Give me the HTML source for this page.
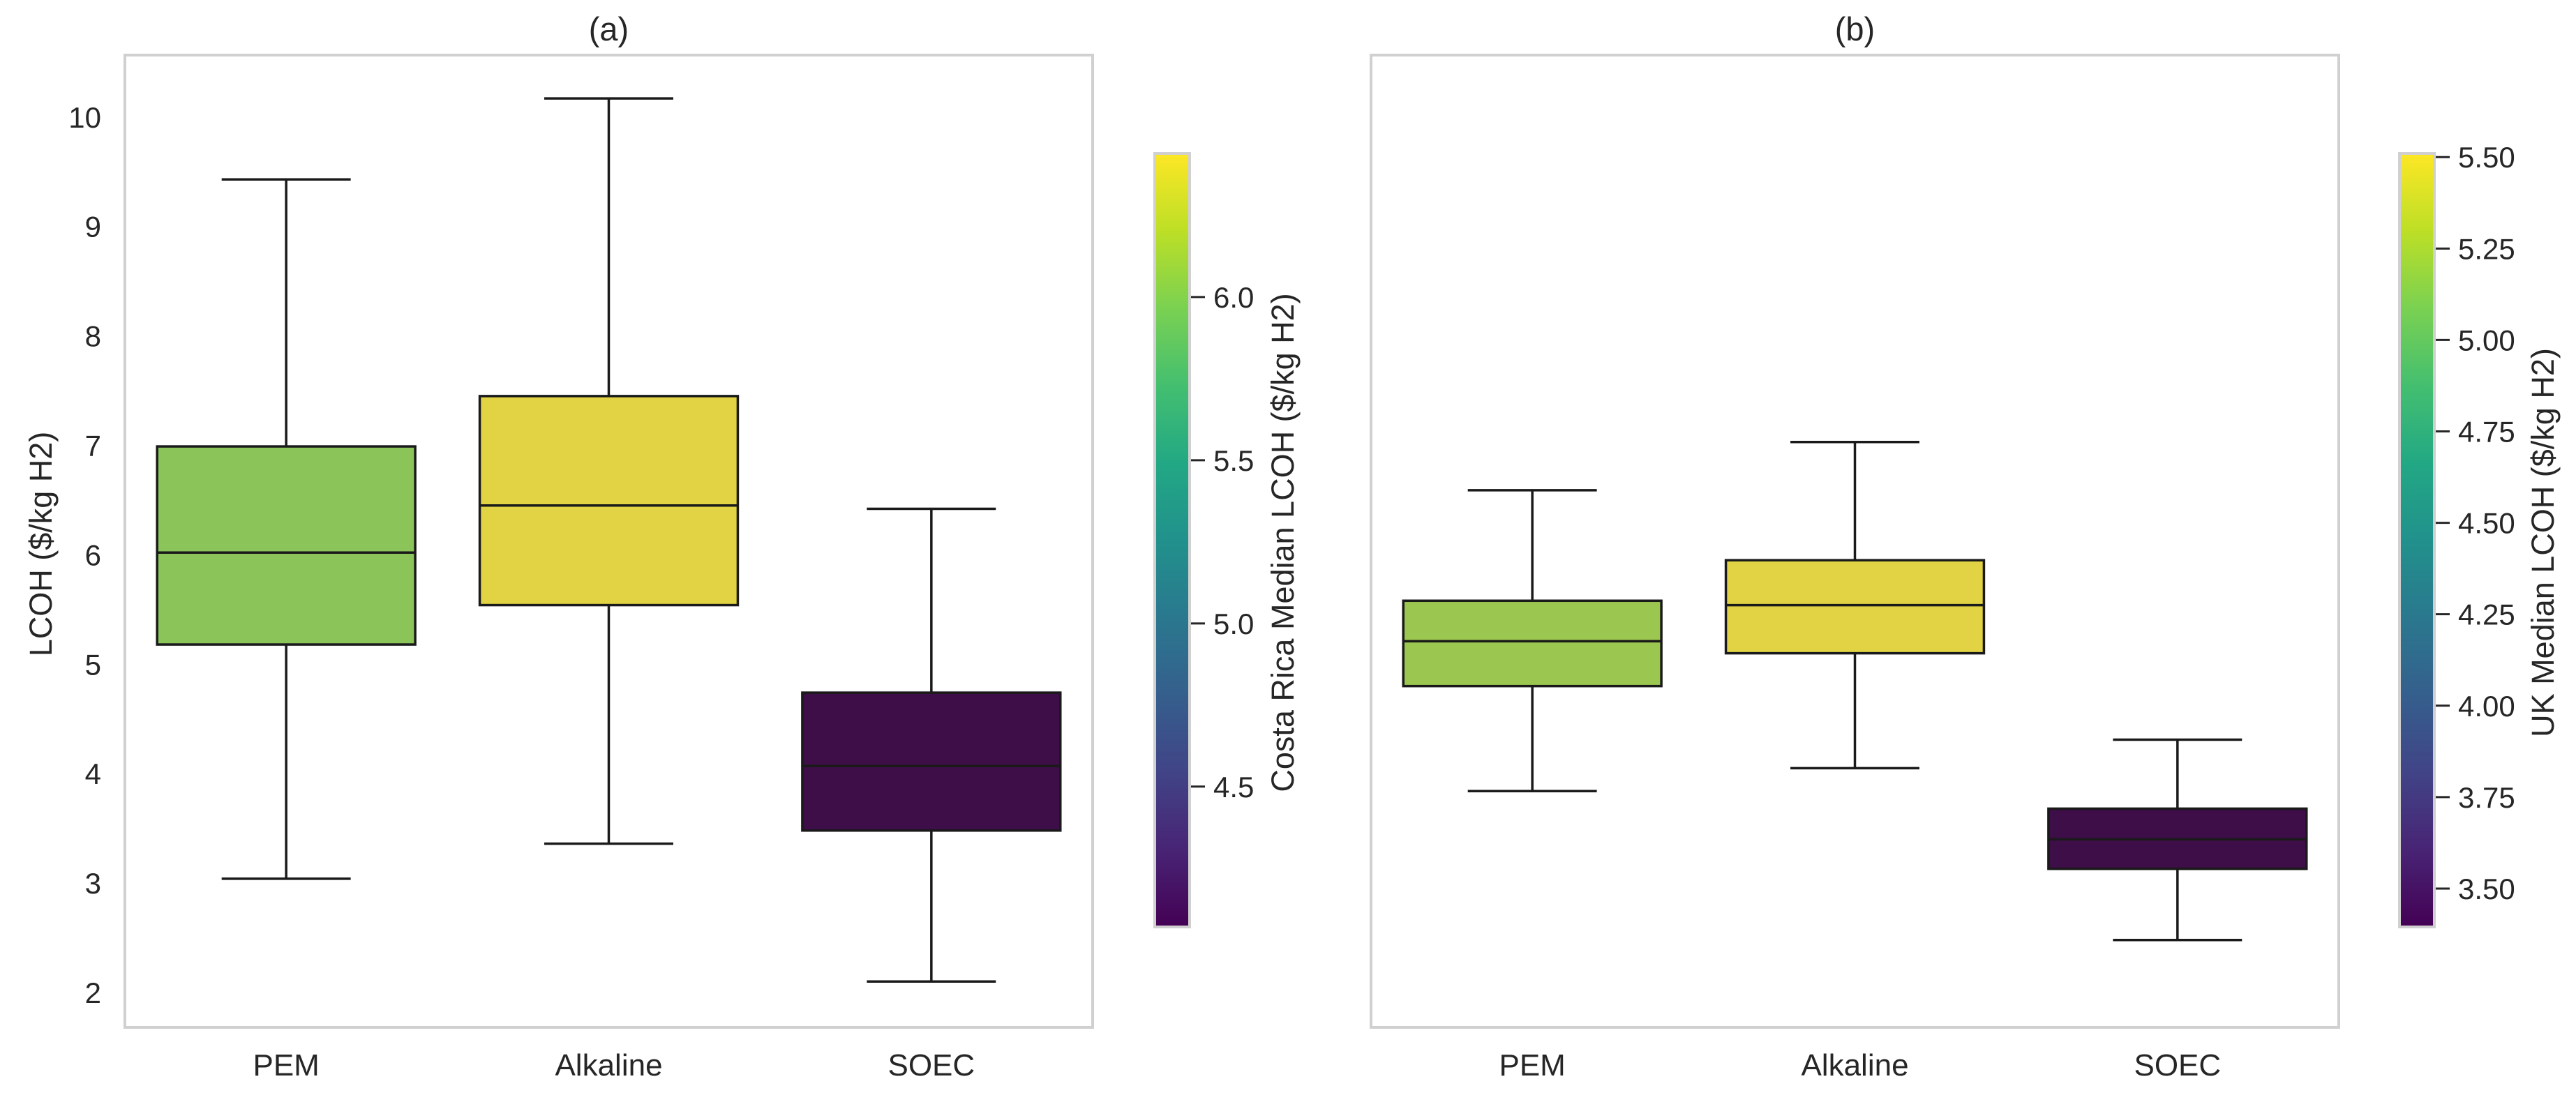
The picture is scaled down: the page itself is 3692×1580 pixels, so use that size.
<!DOCTYPE html>
<html><head><meta charset="utf-8">
<style>
html,body{margin:0;padding:0;background:#fff;}
svg{display:block;font-family:"Liberation Sans",sans-serif;}
</style></head>
<body>
<svg id="chart" width="3692" height="1580" viewBox="0 0 3692 1580" xmlns="http://www.w3.org/2000/svg">
<defs>
<linearGradient id="viridis" x1="0" y1="1" x2="0" y2="0">
<stop offset="0" stop-color="#440154"/><stop offset="0.1" stop-color="#482475"/>
<stop offset="0.2" stop-color="#414487"/><stop offset="0.3" stop-color="#355f8d"/>
<stop offset="0.4" stop-color="#2a788e"/><stop offset="0.5" stop-color="#21918c"/>
<stop offset="0.6" stop-color="#22a884"/><stop offset="0.7" stop-color="#44bf70"/>
<stop offset="0.8" stop-color="#7ad151"/><stop offset="0.9" stop-color="#bddf26"/>
<stop offset="1" stop-color="#fde725"/>
</linearGradient>
</defs>
<g id="root"></g>
</svg>
<script>
const categories = ["PEM", "Alkaline", "SOEC"];
const yTicks = [2, 3, 4, 5, 6, 7, 8, 9, 10];
// panel (a) Costa Rica
const aLow = [3.04, 3.36, 2.10];
const aQ1 = [5.18, 5.54, 3.48];
const aMed = [6.02, 6.45, 4.07];
const aQ3 = [6.99, 7.45, 4.74];
const aHigh = [9.43, 10.17, 6.42];
const aColors = ["#8bc55a", "#e1d344", "#3d0e47"];
// panel (b) UK
const bLow = [3.84, 4.05, 2.48];
const bQ1 = [4.80, 5.10, 3.13];
const bMed = [5.21, 5.54, 3.40];
const bQ3 = [5.58, 5.95, 3.68];
const bHigh = [6.59, 7.03, 4.31];
const bColors = ["#9bc64f", "#e1d344", "#3d0e47"];
// colorbars
const cbATicks = [4.5, 5.0, 5.5, 6.0];
const cbATickLabels = ["4.5", "5.0", "5.5", "6.0"];
const cbARange = [4.07, 6.44];
const cbBTicks = [3.5, 3.75, 4.0, 4.25, 4.5, 4.75, 5.0, 5.25, 5.5];
const cbBTickLabels = ["3.50", "3.75", "4.00", "4.25", "4.50", "4.75", "5.00", "5.25", "5.50"];
const cbBRange = [3.395, 5.51];

const NS = "http://www.w3.org/2000/svg";
const root = document.getElementById("root");
function mk(tag, attrs, parent, text) {
  const e = document.createElementNS(NS, tag);
  for (const k in attrs) e.setAttribute(k, attrs[k]);
  if (text !== undefined) e.textContent = text;
  (parent || root).appendChild(e);
  return e;
}
const TOP = 79, BOT = 1473;
function yScale(v) { return 1423 - (v - 2) * 156.9; }

function panel(key, left, title, low, q1, med, q3, high, colors, showY) {
  const W = 1387, step = W / 3;
  const g = mk("g", {});
  
  
  const frame = mk("rect", {x: left, y: TOP, width: W, height: BOT - TOP, fill: "#fff", stroke: "#d0d0d0", "stroke-width": 4}, g);
  
  
  const t = mk("text", {x: left + W / 2, y: 58, "text-anchor": "middle", "font-size": 47, fill: "#262626"}, g, title);
  
  
  if (showY) {
    yTicks.forEach(v => {
      const tl = mk("text", {x: 145, y: yScale(v) + 15, "text-anchor": "end", "font-size": 42, fill: "#262626"}, g, String(v));
      
      
    });
    const yl = mk("text", {x: 0, y: 0, transform: "translate(74,780) rotate(-90)", "text-anchor": "middle", "font-size": 45, fill: "#262626"}, g, "LCOH ($/kg H2)");
    
    
  }
  categories.forEach((c, i) => {
    const cx = left + step * (i + 0.5);
    const bw = step * 0.8, cw = bw / 2;
    const bg = mk("g", {}, g);
    
    
    const st = {stroke: "#1a1a1a", "stroke-width": 3.5};
    mk("line", Object.assign({x1: cx, x2: cx, y1: yScale(high[i]), y2: yScale(q3[i])}, st), bg);
    mk("line", Object.assign({x1: cx, x2: cx, y1: yScale(q1[i]), y2: yScale(low[i])}, st), bg);
    mk("line", Object.assign({x1: cx - cw / 2, x2: cx + cw / 2, y1: yScale(high[i]), y2: yScale(high[i])}, st), bg);
    mk("line", Object.assign({x1: cx - cw / 2, x2: cx + cw / 2, y1: yScale(low[i]), y2: yScale(low[i])}, st), bg);
    mk("rect", Object.assign({x: cx - bw / 2, y: yScale(q3[i]), width: bw, height: yScale(q1[i]) - yScale(q3[i]), fill: colors[i]}, st), bg);
    mk("line", Object.assign({x1: cx - bw / 2, x2: cx + bw / 2, y1: yScale(med[i]), y2: yScale(med[i])}, st), bg);
    const xl = mk("text", {x: cx, y: 1542, "text-anchor": "middle", "font-size": 44, fill: "#262626"}, g, c);
    
    
  });
}

function colorbar(key, x0, range, ticks, labels, title, titleX) {
  const CT = 220, CB = 1329, w = 50;
  const g = mk("g", {});
  
  
  const cs = v => CB - (v - range[0]) / (range[1] - range[0]) * (CB - CT);
  const r = mk("rect", {x: x0, y: CT, width: w, height: CB - CT, fill: "url(#viridis)", stroke: "#d0d0d0", "stroke-width": 4}, g);
  
  
  ticks.forEach((v, i) => {
    mk("line", {x1: x0 + w + 2, x2: x0 + w + 22, y1: cs(v), y2: cs(v), stroke: "#262626", "stroke-width": 3}, g);
    const tl = mk("text", {x: x0 + w + 34, y: cs(v) + 15, "font-size": 42, fill: "#262626"}, g, labels[i]);
    
    
  });
  const tt = mk("text", {x: 0, y: 0, transform: "translate(" + titleX + ",778) rotate(-90)", "text-anchor": "middle", "font-size": 45, fill: "#262626"}, g, title);
  
  
}

panel("a", 179, "(a)", aLow, aQ1, aMed, aQ3, aHigh, aColors, true);
panel("b", 1965, "(b)", bLow, bQ1, bMed, bQ3, bHigh, bColors, false);
colorbar("a", 1655, cbARange, cbATicks, cbATickLabels, "Costa Rica Median LCOH ($/kg H2)", 1854);
colorbar("b", 3439, cbBRange, cbBTicks, cbBTickLabels, "UK Median LCOH ($/kg H2)", 3660);
</script>
</body></html>
